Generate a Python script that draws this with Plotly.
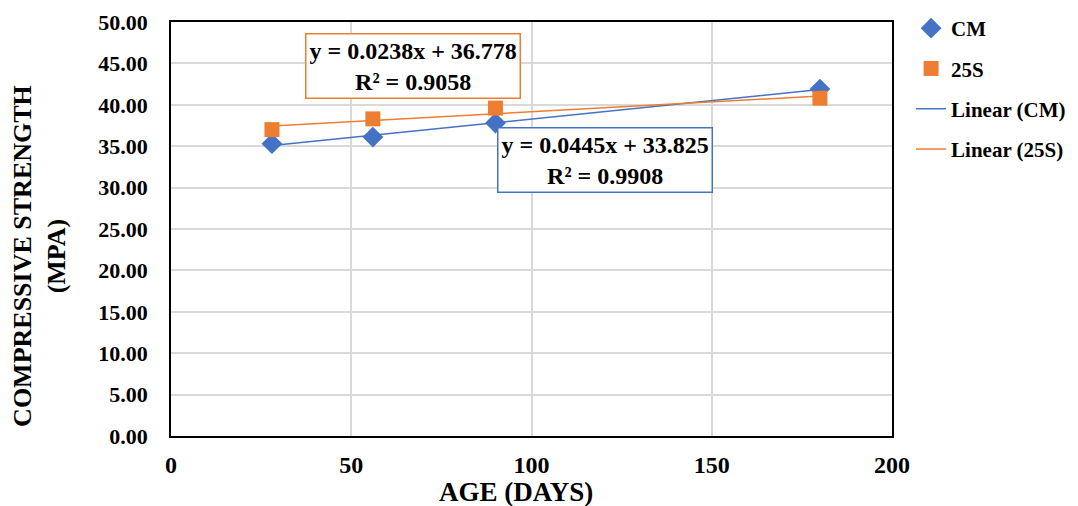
import numpy as np
import plotly.graph_objects as go

age_days = [28, 56, 90, 180]
cm_strength = [35.3, 36.1, 37.8, 41.9]
s25_strength = [37.0, 38.3, 39.6, 40.8]

cm_fit = [0.0445, 33.825]   # slope, intercept
s25_fit = [0.0238, 36.778]
cm_r2 = 0.9908
s25_r2 = 0.9058

BLUE = "#4472C4"
ORANGE = "#ED7D31"
FONT = "Liberation Serif"

x_arr = np.array(age_days, dtype=float)

fig = go.Figure()
fig.add_trace(go.Scatter(x=age_days, y=cm_strength, mode="markers", name="<b>CM</b>",
                         legendgroup="a",
                         marker=dict(symbol="diamond", size=16, color=BLUE)))
fig.add_trace(go.Scatter(x=age_days, y=s25_strength, mode="markers", name="<b>25S</b>",
                         legendgroup="b",
                         marker=dict(symbol="square", size=15, color=ORANGE)))
fig.add_trace(go.Scatter(x=[x_arr.min(), x_arr.max()],
                         y=[cm_fit[0] * x_arr.min() + cm_fit[1], cm_fit[0] * x_arr.max() + cm_fit[1]],
                         mode="lines", name="<b>Linear (CM)</b>", legendgroup="c",
                         line=dict(color=BLUE, width=1.5)))
fig.add_trace(go.Scatter(x=[x_arr.min(), x_arr.max()],
                         y=[s25_fit[0] * x_arr.min() + s25_fit[1], s25_fit[0] * x_arr.max() + s25_fit[1]],
                         mode="lines", name="<b>Linear (25S)</b>", legendgroup="d",
                         line=dict(color=ORANGE, width=1.5)))

fig.add_annotation(x=67.1, y=44.7, xref="x", yref="y", showarrow=False,
                   text=f"<b>y = {s25_fit[0]}x + {s25_fit[1]}<br>R² = {s25_r2}</b>",
                   font=dict(family=FONT, size=24, color="black"), align="center",
                   bordercolor=ORANGE, borderwidth=1.5, bgcolor="white", borderpad=3)
fig.add_annotation(x=120.4, y=33.3, xref="x", yref="y", showarrow=False,
                   text=f"<b>y = {cm_fit[0]}x + {cm_fit[1]}<br>R² = {cm_r2}</b>",
                   font=dict(family=FONT, size=24, color="black"), align="center",
                   bordercolor=BLUE, borderwidth=1.5, bgcolor="white", borderpad=3)

# axis titles
fig.add_annotation(x=-0.1823, y=0.434, xref="paper", yref="paper", showarrow=False,
                   textangle=-90, xanchor="center", yanchor="middle",
                   text="<b>COMPRESSIVE STRENGTH<br>(MPA)</b>",
                   font=dict(family=FONT, size=26, color="black"))
fig.add_annotation(x=0.4785, y=-0.135, xref="paper", yref="paper", showarrow=False,
                   xanchor="center", yanchor="middle",
                   text="<b>AGE (DAYS)</b>",
                   font=dict(family=FONT, size=27, color="black"))

fig.update_layout(
    width=1070, height=498,
    margin=dict(l=163, r=186, t=14, b=70),
    paper_bgcolor="white", plot_bgcolor="white",
    font=dict(family=FONT, size=18, color="black"),
    legend=dict(xref="container", yref="container",
                x=0.844, y=1.0, xanchor="left", yanchor="top",
                font=dict(family=FONT, size=21, color="black"),
                tracegroupgap=10, bgcolor="rgba(0,0,0,0)"),
    xaxis=dict(range=[0, 200], dtick=50, showgrid=True, gridcolor="#d9d9d9", gridwidth=1.5,
               showline=True, linecolor="black", linewidth=1.5, mirror=True,
               zeroline=False, ticks="", ticklabelstandoff=6, automargin=False,
               tickprefix="<b>", ticksuffix="</b>",
               tickfont=dict(family=FONT, size=24, color="black")),
    yaxis=dict(range=[0, 50], dtick=5, tickformat=".2f", showgrid=True,
               gridcolor="#d9d9d9", gridwidth=1.5,
               showline=True, linecolor="black", linewidth=1.5, mirror=True,
               zeroline=False, ticks="", ticklabelstandoff=17, automargin=False,
               tickprefix="<b>", ticksuffix="</b>",
               tickfont=dict(family=FONT, size=22, color="black")),
)

fig.write_html("out.html")
